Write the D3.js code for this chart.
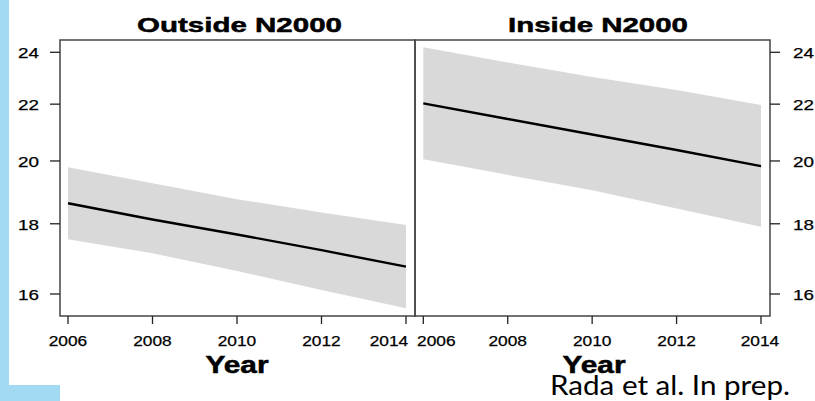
<!DOCTYPE html>
<html>
<head>
<meta charset="utf-8">
<script src="https://cdn.jsdelivr.net/npm/d3@7"></script>
<style>
    body { margin: 0; background: #fff; }
    svg { display: block; }
    text { font-family: "Liberation Sans", Arial, sans-serif; fill: #000; }
</style>
</head>
<body>
<svg id="chart" width="815" height="401"></svg>
<script>
//the values
const years = [2006, 2008, 2010, 2012, 2014];
const xTicks = [2006, 2008, 2010, 2012, 2014];
const yTicks = [16, 18, 20, 22, 24];
const panelTitles = ["Outside N2000", "Inside N2000"];

const outsideFit = [18.63, 18.13, 17.68, 17.22, 16.75];
const outsideLower = [17.54, 17.13, 16.63, 16.11, 15.62];
const outsideUpper = [19.79, 19.27, 18.76, 18.34, 17.96];

const insideFit = [22.03, 21.46, 20.91, 20.37, 19.83];
const insideLower = [20.06, 19.54, 19.04, 18.47, 17.91];
const insideUpper = [24.20, 23.59, 23.03, 22.53, 21.97];

let svg = d3.select("#chart");

//slide decoration on the left
svg.append("rect").attr("x", 0).attr("y", 0).attr("width", 9).attr("height", 386).attr("fill", "#a3daf3");
svg.append("rect").attr("x", 0).attr("y", 385).attr("width", 60).attr("height", 16).attr("fill", "#a3daf3");

//shared y scale (log axis, like the original)
let y = d3.scaleLog().domain([15.42, 24.5]).range([316, 40]);

/**
 * Draw one panel: band, fitted line, box, axes and labels
 */
function drawPanel(p) {
    let x = d3.scaleLinear().domain([2006, 2014]).range(p.xRange);
    let g = svg.append("g");

    let rows = years.map((yr, i) => ({year: yr, fit: p.fit[i], lo: p.lower[i], hi: p.upper[i]}));

    //confidence band
    let area = d3.area()
        .x(d => x(d.year))
        .y0(d => y(d.lo))
        .y1(d => y(d.hi));
    g.append("path").datum(rows).attr("d", area).attr("fill", "#d9d9d9");

    //fitted line
    let line = d3.line()
        .x(d => x(d.year))
        .y(d => y(d.fit));
    g.append("path").datum(rows).attr("d", line)
        .attr("fill", "none").attr("stroke", "#000").attr("stroke-width", 2.4);

    //box
    g.append("rect")
        .attr("x", p.box[0]).attr("y", 40)
        .attr("width", p.box[1] - p.box[0]).attr("height", 276)
        .attr("fill", "none").attr("stroke", "#444").attr("stroke-width", 1.5);

    //x axis ticks
    g.selectAll(".xtick").data(xTicks).enter().append("line")
        .attr("x1", d => x(d)).attr("x2", d => x(d))
        .attr("y1", 316).attr("y2", 324)
        .attr("stroke", "#222").attr("stroke-width", 1.3);

    g.selectAll(".xlab").data(xTicks).enter().append("text")
        .attr("x", (d, i) => x(d) + (p.xLabelShift[i] || 0))
        .attr("y", 346)
        .attr("text-anchor", "middle")
        .attr("font-size", 14.5)
        .attr("textLength", 38.5)
        .attr("lengthAdjust", "spacingAndGlyphs")
        .style("stroke", "#000").style("stroke-width", 0.25)
        .text(d => d);

    //y axis ticks
    let side = p.yAxisSide;
    let tickX = side == "left" ? p.box[0] : p.box[1];
    let dir = side == "left" ? -1 : 1;

    g.selectAll(".ytick").data(yTicks).enter().append("line")
        .attr("x1", tickX).attr("x2", tickX + dir * 10)
        .attr("y1", d => y(d)).attr("y2", d => y(d))
        .attr("stroke", "#222").attr("stroke-width", 1.3);

    g.selectAll(".ylab").data(yTicks).enter().append("text")
        .attr("x", side == "left" ? 39 : 793)
        .attr("y", d => y(d) + 6)
        .attr("text-anchor", side == "left" ? "end" : "start")
        .attr("font-size", 14.5)
        .attr("textLength", 21)
        .attr("lengthAdjust", "spacingAndGlyphs")
        .style("stroke", "#000").style("stroke-width", 0.25)
        .text(d => d);

    //title
    g.append("text")
        .attr("x", p.titleX).attr("y", 31.5)
        .attr("text-anchor", "middle")
        .attr("font-size", 21).attr("font-weight", "bold")
        .attr("textLength", p.titleLength)
        .attr("lengthAdjust", "spacingAndGlyphs")
        .style("stroke", "#000").style("stroke-width", 0.5)
        .text(p.title);

    //x axis title
    g.append("text")
        .attr("x", p.yearX).attr("y", 373)
        .attr("text-anchor", "middle")
        .attr("font-size", 23).attr("font-weight", "bold")
        .attr("textLength", 63)
        .attr("lengthAdjust", "spacingAndGlyphs")
        .style("stroke", "#000").style("stroke-width", 0.5)
        .text("Year");
}

drawPanel({
    title: panelTitles[0],
    titleX: 239.5,
    titleLength: 205,
    yearX: 237,
    xRange: [68, 406],
    box: [60, 415],
    yAxisSide: "left",
    xLabelShift: [0, 0, 0, 0, -17],
    fit: outsideFit,
    lower: outsideLower,
    upper: outsideUpper
});

drawPanel({
    title: panelTitles[1],
    titleX: 598,
    titleLength: 180,
    yearX: 594,
    xRange: [423.3, 761],
    box: [415, 770],
    yAxisSide: "right",
    xLabelShift: [13, 0, 0, 0, -1],
    fit: insideFit,
    lower: insideLower,
    upper: insideUpper
});

//citation, in a calibri-like face
svg.append("text")
    .attr("x", 550).attr("y", 394.5)
    .style("font-family", "Lato, 'Open Sans', sans-serif")
    .attr("font-size", 26)
    .attr("textLength", 240)
    .attr("lengthAdjust", "spacingAndGlyphs")
    .text("Rada et al. In prep.");
</script>
</body>
</html>
